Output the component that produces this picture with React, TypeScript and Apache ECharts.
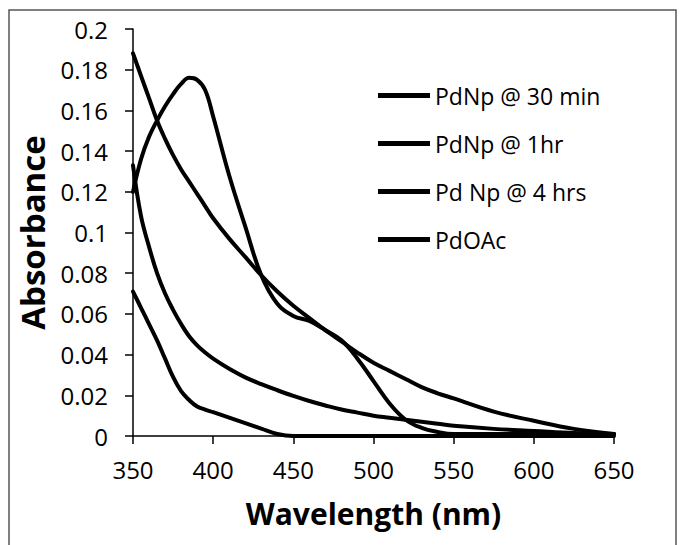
import React, { useEffect, useRef } from "react";
import * as echarts from "echarts";

const wavelengths = [350, 355, 360, 365, 370, 375, 380, 385, 390, 395, 400, 410, 420, 430, 440, 450, 460, 470, 480, 490, 500, 510, 520, 530, 540, 550, 575, 600, 625, 650];

const seriesNames = ["PdNp @ 30 min", "PdNp @ 1hr", "Pd Np @ 4 hrs", "PdOAc"];

const pdNp30min = [0.120, 0.136, 0.147, 0.155, 0.162, 0.168, 0.173, 0.176, 0.175, 0.170, 0.157, 0.128, 0.103, 0.079, 0.065, 0.059, 0.0565, 0.052, 0.047, 0.038, 0.027, 0.016, 0.008, 0.004, 0.002, 0.001, 0.001, 0.001, 0.001, 0.001];
const pdNp1hr = [0.188, 0.177, 0.166, 0.155, 0.146, 0.138, 0.131, 0.125, 0.119, 0.113, 0.107, 0.097, 0.088, 0.079, 0.071, 0.064, 0.058, 0.052, 0.0465, 0.041, 0.036, 0.032, 0.028, 0.024, 0.021, 0.0185, 0.012, 0.0075, 0.0035, 0.001];
const pdNp4hrs = [0.133, 0.108, 0.093, 0.080, 0.070, 0.062, 0.055, 0.049, 0.0445, 0.041, 0.038, 0.033, 0.0288, 0.0255, 0.0225, 0.0197, 0.0172, 0.015, 0.013, 0.0115, 0.010, 0.009, 0.008, 0.007, 0.006, 0.005, 0.0035, 0.0025, 0.0015, 0.001];
const pdOAc = [0.071, 0.063, 0.055, 0.047, 0.038, 0.029, 0.022, 0.0177, 0.0145, 0.013, 0.0117, 0.009, 0.0063, 0.0036, 0.001, 0, 0, 0, 0, 0, 0, 0, 0, 0, 0, 0, 0, 0, 0, 0];

const allSeries = [pdNp30min, pdNp1hr, pdNp4hrs, pdOAc];

export default function App() {
  const ref = useRef<HTMLDivElement>(null);
  useEffect(() => {
    if (!ref.current) return;
    const chart = echarts.init(ref.current, null, { renderer: "svg" });
    const font = "'Open Sans', sans-serif";
    chart.setOption({
      animation: false,
      backgroundColor: "#ffffff",
      graphic: [
        {
          type: "rect",
          shape: { x: 9, y: 10, width: 667, height: 560 },
          style: { fill: "none", stroke: "#555", lineWidth: 1.5 },
          silent: true,
        },
      ],
      grid: { left: 133, right: 67, top: 29, bottom: 109, containLabel: false },
      legend: {
        orient: "vertical",
        left: 373,
        top: 78,
        icon: "rect",
        itemWidth: 52,
        itemHeight: 5,
        itemGap: 23,
        data: seriesNames,
        textStyle: { fontFamily: font, fontSize: 23, color: "#000", lineHeight: 25 },
      },
      xAxis: {
        type: "value",
        min: 350,
        max: 650,
        interval: 50,
        name: "Wavelength (nm)",
        nameLocation: "middle",
        nameGap: 62,
        nameTextStyle: { fontFamily: font, fontSize: 30, fontWeight: "bold", color: "#000" },
        axisLine: { show: true, onZero: false, lineStyle: { color: "#000", width: 1.5 } },
        axisTick: { show: true, inside: false, length: 8, lineStyle: { color: "#000", width: 1.5 } },
        axisLabel: { margin: 21, fontFamily: font, fontSize: 24, color: "#000" },
        splitLine: { show: false },
      },
      yAxis: {
        type: "value",
        min: 0,
        max: 0.2,
        interval: 0.02,
        name: "Absorbance",
        nameLocation: "middle",
        nameGap: 84,
        nameTextStyle: { fontFamily: font, fontSize: 33, fontWeight: "bold", color: "#000" },
        axisLine: { show: true, lineStyle: { color: "#000", width: 1.5 } },
        axisTick: { show: true, inside: false, length: 8, lineStyle: { color: "#000", width: 1.5 } },
        axisLabel: {
          margin: 25,
          fontFamily: font,
          fontSize: 24,
          color: "#000",
          formatter: (v: number) => String(parseFloat(v.toFixed(2))),
        },
        splitLine: { show: false },
      },
      series: allSeries.map((vals, i) => ({
        name: seriesNames[i],
        type: "line",
        data: wavelengths.map((w, j) => [w, vals[j]]),
        showSymbol: false,
        symbol: "none",
        smooth: 0.4,
        color: "#000",
        lineStyle: { color: "#000", width: 4, cap: "round", join: "round" },
        itemStyle: { color: "#000" },
        z: 2,
      })),
    });
    return () => chart.dispose();
  }, []);
  return (
    <div
      ref={ref}
      style={{ position: "fixed", left: 0, top: 0, width: 681, height: 545, background: "#fff" }}
    />
  );
}
